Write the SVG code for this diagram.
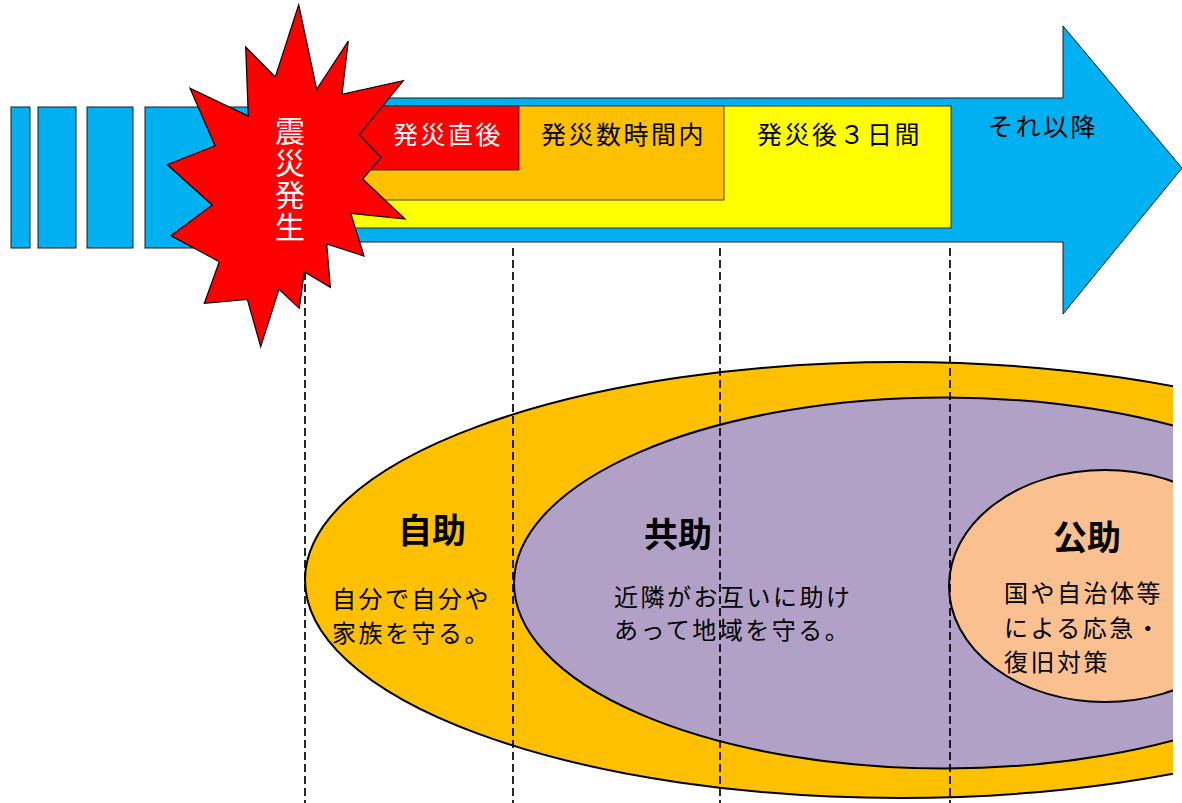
<svg xmlns="http://www.w3.org/2000/svg" width="1182" height="803" viewBox="0 0 1182 803">
<defs>
<style>
.blue{fill:#00B0F0;stroke:#1a1a1a;stroke-width:1}
.t{font-family:"Noto Sans CJK JP","Noto Sans CJK SC",sans-serif;dominant-baseline:central}
.lbl{font-size:25px;letter-spacing:2.5px}
.body{font-size:24px;letter-spacing:2.5px;fill:#000}
.head{font-size:34px;font-weight:700;fill:#000;text-anchor:middle}
.ell{stroke:#000;stroke-width:2}
.dash{stroke:#000;stroke-width:1.7;stroke-dasharray:8 4;fill:none}
</style>
<clipPath id="clipR"><rect x="0" y="0" width="1173" height="803"/></clipPath>
</defs>
<rect width="1182" height="803" fill="#fff"/>

<g id="timeline-bars">
<rect class="blue" x="11" y="107" width="19" height="141"/>
<rect class="blue" x="38" y="107" width="38" height="141"/>
<rect class="blue" x="87" y="107" width="46" height="141"/>
<rect class="blue" x="145" y="107" width="170" height="141"/>
</g>

<g id="arrow">
<polygon class="blue" points="300,98 1063,98 1063,26 1182,168 1063,314 1063,242 300,242"/>
<text class="t lbl" x="988" y="125" fill="#000">それ以降</text>
</g>

<g id="box-3days">
<rect x="330" y="106" width="621" height="122" fill="#FFFF00" stroke="#333" stroke-width="1"/>
<text class="t lbl" x="757" y="133" fill="#000">発災後３日間</text>
</g>
<g id="box-hours">
<rect x="330" y="106" width="394" height="94" fill="#FFC000" stroke="#444" stroke-width="1"/>
<text class="t lbl" x="541" y="133" fill="#000">発災数時間内</text>
</g>
<g id="box-immediate">
<rect x="330" y="106" width="189" height="64" fill="#FF0000" stroke="#333" stroke-width="1"/>
<text class="t lbl" x="393" y="133" fill="#fff">発災直後</text>
</g>

<g clip-path="url(#clipR)">
<g id="jijo">
<ellipse class="ell" cx="900" cy="580" rx="595" ry="218" fill="#FFC000"/>
<text class="t head" x="432" y="528">自助</text>
<text class="t body" x="332" y="597">自分で自分や</text>
<text class="t body" x="332" y="631">家族を守る。</text>
</g>
<g id="kyojo">
<ellipse class="ell" cx="945" cy="583" rx="431" ry="185.5" fill="#B2A1C7"/>
<text class="t head" x="678" y="532">共助</text>
<text class="t body" x="614" y="595">近隣がお互いに助け</text>
<text class="t body" x="614" y="628">あって地域を守る。</text>
</g>
<g id="kojo">
<ellipse class="ell" cx="1105" cy="586" rx="156" ry="116" fill="#FAC090"/>
<text class="t head" x="1087" y="535">公助</text>
<text class="t body" x="1004" y="591">国や自治体等</text>
<text class="t body" x="1004" y="626">による応急・</text>
<text class="t body" x="1004" y="660">復旧対策</text>
</g>
</g>

<g id="connectors">
<line class="dash" x1="305" y1="248" x2="305" y2="803"/>
<line class="dash" x1="513" y1="248" x2="513" y2="803"/>
<line class="dash" x1="720" y1="248" x2="720" y2="803"/>
<line class="dash" x1="950" y1="248" x2="950" y2="803"/>
</g>

<g id="quake">
<polygon fill="#FF0000" stroke="#000" stroke-width="1.2" stroke-linejoin="miter" points="298.7,4.7 316.7,89.3 348.3,41 342,94.3 403.3,80.7 359.3,134.7 381,157.3 362.7,179 405,219 350.7,213.3 364,256 326.7,244 330.3,287.3 304.3,271.7 299.3,308.3 279,289.3 260.7,346.7 247.3,299.3 204.3,303.3 219.3,261.7 171,235.7 212.3,205 167.3,164.7 215,145.7 190,88.3 248.3,116 245.7,47 275.3,77"/>
<text x="290" y="116" font-family="Noto Sans CJK JP, Noto Sans CJK SC, sans-serif" font-size="30" fill="#fff" writing-mode="vertical-rl" letter-spacing="2">震災発生</text>
</g>
</svg>
